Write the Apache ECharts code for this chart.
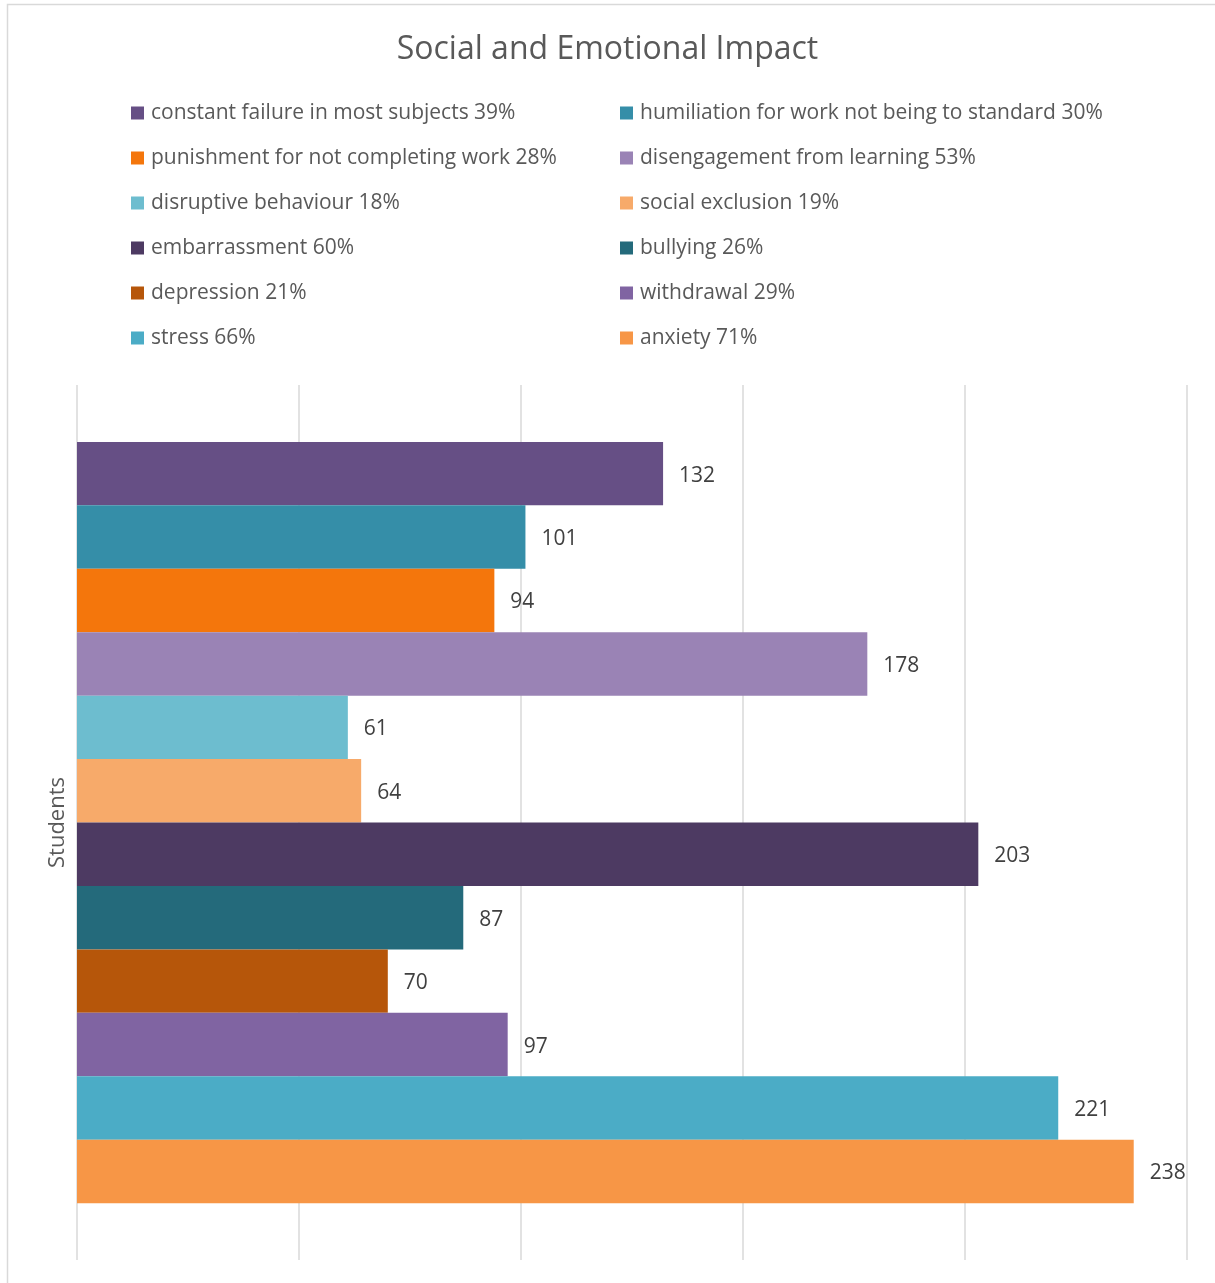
<!DOCTYPE html>
<html>
<head>
<meta charset="utf-8">
<title>Social and Emotional Impact</title>
<script src="https://cdn.jsdelivr.net/npm/echarts@6/dist/echarts.min.js"></script>
<style>
  html, body { margin: 0; padding: 0; background: #ffffff; }
  #chart { width: 1215px; height: 1283px; }
</style>
</head>
<body>
<div id="chart"></div>
<script>
// Category on the vertical axis
const categories = ['Students'];

// One series per impact, in display order (top to bottom)
const seriesNames = [
  'constant failure in most subjects 39%',
  'humiliation for work not being to standard 30%',
  'punishment for not completing work 28%',
  'disengagement from learning 53%',
  'disruptive behaviour 18%',
  'social exclusion 19%',
  'embarrassment 60%',
  'bullying 26%',
  'depression 21%',
  'withdrawal 29%',
  'stress 66%',
  'anxiety 71%'
];

// Number of students reporting each impact
const studentCounts = [132, 101, 94, 178, 61, 64, 203, 87, 70, 97, 221, 238];

const seriesColors = [
  '#664F85', '#358EA8', '#F4760C', '#9A83B5', '#6DBDCF', '#F7AA6A',
  '#4D3A62', '#246A7B', '#B6560A', '#8064A2', '#4BACC6', '#F79646'
];

const FONT = '"Open Sans", "Noto Sans", sans-serif';

const chart = echarts.init(document.getElementById('chart'), null, { renderer: 'canvas' });

const legendCommon = {
  orient: 'vertical',
  top: 101,
  padding: 0,
  itemWidth: 13,
  itemHeight: 13,
  itemGap: 21,
  icon: 'rect',
  textStyle: { fontFamily: FONT, fontSize: 21, color: '#595959', lineHeight: 24, padding: [0, 0, 0, 2] }
};

const option = {
  backgroundColor: '#ffffff',
  animation: false,
  textStyle: { fontFamily: FONT },
  title: {
    text: 'Social and Emotional Impact',
    left: 'center',
    top: 29,
    textStyle: { fontFamily: FONT, fontSize: 32, fontWeight: 'normal', color: '#595959' }
  },
  legend: [
    Object.assign({}, legendCommon, { left: 131, data: seriesNames.filter((_, i) => i % 2 === 0) }),
    Object.assign({}, legendCommon, { left: 620, data: seriesNames.filter((_, i) => i % 2 === 1) })
  ],
  graphic: [{
    type: 'rect',
    shape: { x: 7.5, y: 4.5, width: 1220, height: 1300 },
    style: { fill: 'none', stroke: '#d9d9d9', lineWidth: 1.5 },
    silent: true
  }],
  grid: { left: 77, right: 28, top: 385, bottom: 23, containLabel: false },
  xAxis: {
    type: 'value',
    min: 0,
    max: 250,
    interval: 50,
    axisLabel: { show: false },
    axisLine: { show: false },
    axisTick: { show: false },
    splitLine: { show: true, lineStyle: { color: '#d9d9d9', width: 1.5 } }
  },
  yAxis: {
    type: 'category',
    data: categories,
    inverse: true,
    axisLine: { show: false },
    axisTick: { show: false },
    axisLabel: { rotate: 90, margin: 8, fontFamily: FONT, fontSize: 22, color: '#595959' }
  },
  series: seriesNames.map((name, i) => ({
    name: name,
    type: 'bar',
    data: [studentCounts[i]],
    barGap: '0%',
    barCategoryGap: '13%',
    itemStyle: { color: seriesColors[i] },
    label: {
      show: true,
      position: 'right',
      distance: 16,
      offset: [0, 2],
      fontFamily: FONT,
      fontSize: 21,
      color: '#404040'
    }
  }))
};

chart.setOption(option);
</script>
</body>
</html>
